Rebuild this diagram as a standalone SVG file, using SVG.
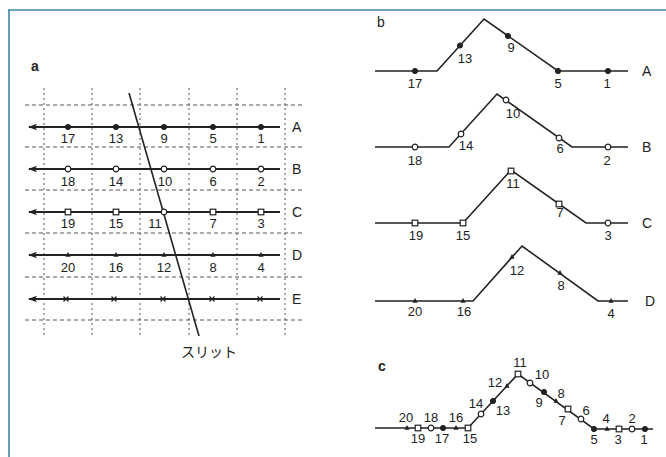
<svg xmlns="http://www.w3.org/2000/svg" width="666" height="457" viewBox="0 0 666 457">
<defs>
<style>
.frame{stroke:#3f86a8;stroke-width:1.6;fill:none}
.grid{stroke:#555;stroke-width:1;stroke-dasharray:4 3;fill:none}
.vgrid{stroke:#555;stroke-width:1;stroke-dasharray:2 3;fill:none}
.row{stroke:#222;stroke-width:2;fill:none}
.prof{stroke:#222;stroke-width:1.6;fill:none;stroke-linejoin:miter}
.slit{stroke:#222;stroke-width:1.6;fill:none}
text{font-family:"Liberation Sans",Arial,sans-serif;fill:#222}
.num{font-size:13px;text-anchor:middle}
.lab{font-size:14px}
.pan{font-size:14px;font-weight:bold}
.jp{font-family:"Liberation Sans","Noto Sans CJK JP",sans-serif;font-size:14px;text-anchor:middle}
.fc{fill:#222;stroke:#222;stroke-width:1}
.oc{fill:#fff;stroke:#222;stroke-width:1.2}
.sq{fill:#fff;stroke:#222;stroke-width:1.2}
.tr{fill:#222}
.xm{stroke:#222;stroke-width:1.2}
</style>
<marker id="arr" markerWidth="10" markerHeight="8" refX="8" refY="4" orient="auto" markerUnits="userSpaceOnUse">
<path d="M9,4 L0,0.8 L2,4 L0,7.2 Z" fill="#222"/>
</marker>
<circle id="fc" r="2.6" class="fc"/>
<circle id="oc" r="2.8" class="oc"/>
<rect id="sq" x="-2.8" y="-2.8" width="5.6" height="5.6" class="sq"/>
<path id="tr" d="M0,-3 L2.6,1.8 L-2.6,1.8 Z" class="tr"/>
<path id="xm" d="M-2.5,-2.5 L2.5,2.5 M-2.5,2.5 L2.5,-2.5" class="xm"/>
</defs>
<rect width="666" height="457" fill="#fff"/>
<path class="frame" d="M8,10 L666,10 M9,10 L9,457"/>

<!-- Panel a -->
<g id="panel-a">
<text class="pan" x="31" y="71">a</text>
<g id="grid">
<path class="vgrid" d="M44,88 V336 M92,88 V336 M140,88 V336 M189,88 V336 M237,88 V336 M285,88 V336"/>
<path class="grid" d="M25,105 H305 M25,147 H305 M25,190 H305 M25,233 H305 M25,277 H305 M25,320 H305"/>
</g>
<g id="connectors">
<path class="row" d="M280,127 H29" marker-end="url(#arr)"/>
<path class="row" d="M280,169 H29" marker-end="url(#arr)"/>
<path class="row" d="M280,212 H29" marker-end="url(#arr)"/>
<path class="row" d="M280,255 H29" marker-end="url(#arr)"/>
<path class="row" d="M280,299 H29" marker-end="url(#arr)"/>
<path class="slit" d="M129,93 L199,336"/>
</g>
<g id="row-A">
<use href="#fc" x="68" y="127"/><use href="#fc" x="116" y="127"/><use href="#fc" x="164" y="127"/><use href="#fc" x="213" y="127"/><use href="#fc" x="261" y="127"/>
<text class="num" x="68" y="143">17</text><text class="num" x="116" y="143">13</text><text class="num" x="164" y="143">9</text><text class="num" x="213" y="143">5</text><text class="num" x="261" y="143">1</text>
<text class="lab" x="292" y="132">A</text>
</g>
<g id="row-B">
<use href="#oc" x="68" y="169"/><use href="#oc" x="116" y="169"/><use href="#oc" x="164" y="169"/><use href="#oc" x="213" y="169"/><use href="#oc" x="261" y="169"/>
<text class="num" x="68" y="186">18</text><text class="num" x="116" y="186">14</text><text class="num" x="165" y="186">10</text><text class="num" x="213" y="186">6</text><text class="num" x="261" y="186">2</text>
<text class="lab" x="292" y="174">B</text>
</g>
<g id="row-C">
<use href="#sq" x="68" y="212"/><use href="#sq" x="116" y="212"/><use href="#oc" x="164" y="212"/><use href="#sq" x="213" y="212"/><use href="#sq" x="261" y="212"/>
<text class="num" x="68" y="228">19</text><text class="num" x="116" y="228">15</text><text class="num" x="155" y="228">11</text><text class="num" x="213" y="228">7</text><text class="num" x="261" y="228">3</text>
<text class="lab" x="292" y="217">C</text>
</g>
<g id="row-D">
<use href="#tr" x="68" y="255"/><use href="#tr" x="116" y="255"/><use href="#tr" x="164" y="255"/><use href="#tr" x="213" y="255"/><use href="#tr" x="261" y="255"/>
<text class="num" x="68" y="272">20</text><text class="num" x="116" y="272">16</text><text class="num" x="164" y="272">12</text><text class="num" x="213" y="272">8</text><text class="num" x="261" y="272">4</text>
<text class="lab" x="292" y="260">D</text>
</g>
<g id="row-E">
<use href="#xm" x="66" y="299"/><use href="#xm" x="114" y="299"/><use href="#xm" x="163" y="299"/><use href="#xm" x="212" y="299"/><use href="#xm" x="260" y="299"/>
<text class="lab" x="292" y="304">E</text>
</g>
<text class="jp" x="209" y="357">スリット</text>
</g>

<!-- Panel b -->
<g id="panel-b">
<text class="pan" x="377" y="27" style="font-weight:normal">b</text>
<g id="profile-A">
<path class="prof" d="M375,71 L437,71 L484,19 L558,71 L628,71"/>
<use href="#fc" x="415" y="71"/><use href="#fc" x="460" y="45.5"/><use href="#fc" x="508" y="36"/><use href="#fc" x="558" y="71"/><use href="#fc" x="608" y="71"/>
<text class="num" x="415" y="88">17</text><text class="num" x="465" y="63">13</text><text class="num" x="511" y="52">9</text><text class="num" x="558" y="88">5</text><text class="num" x="607" y="88">1</text>
<text class="lab" x="642" y="76">A</text>
</g>
<g id="profile-B">
<path class="prof" d="M375,147 L449,147 L497,94 L572,147 L628,147"/>
<use href="#oc" x="415" y="147"/><use href="#oc" x="461" y="134"/><use href="#oc" x="506" y="100"/><use href="#oc" x="559" y="138"/><use href="#oc" x="608" y="147"/>
<text class="num" x="415" y="165">18</text><text class="num" x="466" y="150">14</text><text class="num" x="513" y="118">10</text><text class="num" x="560" y="153">6</text><text class="num" x="607" y="165">2</text>
<text class="lab" x="642" y="152">B</text>
</g>
<g id="profile-C">
<path class="prof" d="M375,223 L463,223 L511,170 L586,223 L628,223"/>
<use href="#sq" x="415" y="223"/><use href="#sq" x="463" y="223"/><use href="#sq" x="511" y="171"/><use href="#sq" x="559" y="204"/><use href="#oc" x="608" y="223"/>
<text class="num" x="513" y="188">11</text><text class="num" x="560" y="217">7</text><text class="num" x="416" y="240">19</text><text class="num" x="463" y="240">15</text><text class="num" x="608" y="240">3</text>
<text class="lab" x="642" y="228">C</text>
</g>
<g id="profile-D">
<path class="prof" d="M375,301 L473,301 L522,246 L598,301 L628,301"/>
<use href="#tr" x="415" y="301"/><use href="#tr" x="463" y="301"/><use href="#tr" x="512" y="257"/><use href="#tr" x="560" y="273"/><use href="#tr" x="611" y="301"/>
<text class="num" x="517" y="275">12</text><text class="num" x="561" y="290">8</text><text class="num" x="415" y="316">20</text><text class="num" x="464" y="316">16</text><text class="num" x="611" y="318">4</text>
<text class="lab" x="645" y="306">D</text>
</g>
</g>

<!-- Panel c -->
<g id="panel-c">
<text class="pan" x="378" y="371">c</text>
<path class="prof" d="M375,428 L468,428 L518,374 L594,429 L653,429"/>
<use href="#tr" x="407" y="428"/><use href="#sq" x="418" y="428"/><use href="#oc" x="431" y="428"/><use href="#fc" x="443" y="428"/><use href="#tr" x="456" y="428"/><use href="#sq" x="468" y="428"/>
<use href="#oc" x="481" y="414"/><use href="#fc" x="493" y="401"/><use href="#tr" x="507" y="386"/><use href="#sq" x="518" y="374"/>
<use href="#oc" x="530" y="383"/><use href="#fc" x="544" y="392"/><use href="#tr" x="556" y="401"/><use href="#sq" x="568" y="409"/><use href="#oc" x="581" y="419"/><use href="#fc" x="594" y="429"/>
<use href="#tr" x="607" y="429"/><use href="#sq" x="619" y="429"/><use href="#oc" x="632" y="429"/><use href="#fc" x="645" y="429"/>
<text class="num" x="406" y="422">20</text><text class="num" x="431" y="422">18</text><text class="num" x="456" y="422">16</text>
<text class="num" x="418" y="443">19</text><text class="num" x="442" y="443">17</text><text class="num" x="470" y="443">15</text>
<text class="num" x="476" y="408">14</text><text class="num" x="503" y="415">13</text><text class="num" x="495" y="387">12</text><text class="num" x="520" y="367">11</text>
<text class="num" x="542" y="379">10</text><text class="num" x="539" y="407">9</text><text class="num" x="561" y="398">8</text><text class="num" x="562" y="425">7</text><text class="num" x="586" y="415">6</text>
<text class="num" x="606" y="423">4</text><text class="num" x="632" y="423">2</text>
<text class="num" x="594" y="444">5</text><text class="num" x="618" y="444">3</text><text class="num" x="644" y="444">1</text>
</g>
</svg>
